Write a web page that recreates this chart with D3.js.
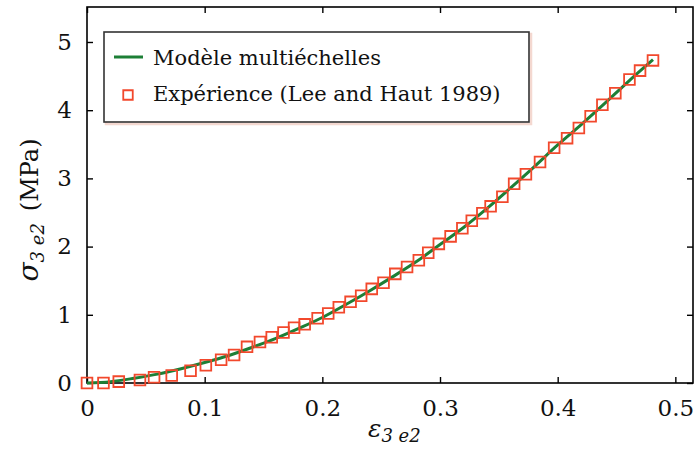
<!DOCTYPE html>
<meta charset="utf-8">
<style>
body { margin: 0; background: #fff; }
text { font-family: "DejaVu Serif", "Liberation Serif", serif; fill: #111; }
.axis path, .axis line { stroke: #000; }
</style>
<body>
<script src="https://cdn.jsdelivr.net/npm/d3@7/dist/d3.min.js"></script>
<script>

// model curve (Modèle multiéchelles)
var modelStrain = [0, 0.02, 0.04, 0.06, 0.08, 0.10, 0.12, 0.14, 0.16, 0.18, 0.20, 0.22, 0.24,
  0.26, 0.28, 0.30, 0.32, 0.34, 0.36, 0.38, 0.40, 0.42, 0.44, 0.46, 0.481];
var modelStress = [0, 0.02, 0.07, 0.13, 0.21, 0.30, 0.40, 0.52, 0.65, 0.80, 0.96, 1.15, 1.35,
  1.56, 1.78, 2.03, 2.28, 2.56, 2.86, 3.17, 3.49, 3.79, 4.10, 4.42, 4.74];

// experiment (Lee and Haut 1989)
var expStrain = [0.000, 0.014, 0.027, 0.045, 0.057, 0.072, 0.088, 0.101, 0.114, 0.125, 0.136,
  0.147, 0.157, 0.167, 0.176, 0.185, 0.196, 0.205, 0.214, 0.224, 0.233, 0.242, 0.252, 0.262,
  0.272, 0.282, 0.290, 0.299, 0.309, 0.319, 0.327, 0.336, 0.343, 0.353, 0.363, 0.373, 0.385,
  0.397, 0.408, 0.418, 0.428, 0.438, 0.449, 0.461, 0.470, 0.481];
var expStress = [0.00, 0.00, 0.02, 0.045, 0.085, 0.11, 0.18, 0.26, 0.34, 0.41, 0.53,
  0.60, 0.67, 0.74, 0.81, 0.86, 0.95, 1.02, 1.11, 1.19, 1.28, 1.38, 1.47, 1.60,
  1.70, 1.80, 1.91, 2.04, 2.15, 2.27, 2.38, 2.49, 2.59, 2.73, 2.92, 3.06, 3.24,
  3.45, 3.59, 3.74, 3.91, 4.08, 4.25, 4.45, 4.58, 4.73];

var xTicks = [0, 0.1, 0.2, 0.3, 0.4, 0.5];
var yTicks = [0, 1, 2, 3, 4, 5];
var legendLabels = ["Modèle multiéchelles", "Expérience (Lee and Haut 1989)"];

var W = 695, H = 454;
var pl = 87, pr = 693, pt = 7, pb = 383;

var svg = d3.select("body").append("svg")
  .attr("width", W)
  .attr("height", H);

var x = d3.scaleLinear().domain([0, 0.515]).range([pl, pr]);
var y = d3.scaleLinear().domain([0, 5.513]).range([pb, pt]);

// frame
svg.append("rect")
  .attr("x", pl).attr("y", pt)
  .attr("width", pr - pl).attr("height", pb - pt)
  .attr("fill", "none").attr("stroke", "#000").attr("stroke-width", 1.6);

// axes with inward ticks
var fmt = function(d) { return d === 0 ? "0" : d3.format(".1f")(d); };
svg.append("g").attr("class", "axis")
  .attr("transform", "translate(0," + pb + ")")
  .call(d3.axisBottom(x).tickValues(xTicks).tickSizeInner(-6).tickSizeOuter(0).tickPadding(17).tickFormat(fmt))
  .call(function(g) { g.select(".domain").remove(); })
  .selectAll("text").style("font-size", "23px").attr("fill", "#111");
svg.append("g").attr("class", "axis")
  .attr("transform", "translate(0," + pt + ")")
  .call(d3.axisTop(x).tickValues(xTicks).tickSizeInner(-6).tickSizeOuter(0).tickFormat(""))
  .call(function(g) { g.select(".domain").remove(); });
svg.append("g").attr("class", "axis")
  .attr("transform", "translate(" + pl + ",0)")
  .call(d3.axisLeft(y).tickValues(yTicks).tickSizeInner(-6).tickSizeOuter(0).tickPadding(15).tickFormat(d3.format("d")))
  .call(function(g) { g.select(".domain").remove(); })
  .selectAll("text").style("font-size", "23px").attr("fill", "#111");
svg.append("g").attr("class", "axis")
  .attr("transform", "translate(" + pr + ",0)")
  .call(d3.axisRight(y).tickValues(yTicks).tickSizeInner(-6).tickSizeOuter(0).tickFormat(""))
  .call(function(g) { g.select(".domain").remove(); });
svg.selectAll(".axis line").attr("stroke-width", 1.4);

// model line
var model = modelStrain.map(function(d, i) { return [d, modelStress[i]]; });
var line = d3.line()
  .x(function(d) { return x(d[0]); })
  .y(function(d) { return y(d[1]); })
  .curve(d3.curveMonotoneX);
svg.append("path")
  .datum(model)
  .attr("d", line)
  .attr("fill", "none")
  .attr("stroke", "#1d7f36")
  .attr("stroke-width", 3);

// experiment squares
var sq = d3.symbol().type(d3.symbolSquare).size(115);
svg.selectAll(".pt")
  .data(expStrain.map(function(d, i) { return [d, expStress[i]]; }))
  .enter().append("path")
  .attr("class", "pt")
  .attr("d", sq)
  .attr("transform", function(d) { return "translate(" + x(d[0]) + "," + y(d[1]) + ")"; })
  .attr("fill", "none")
  .attr("stroke", "#f2482c")
  .attr("stroke-width", 1.8);

// legend
var lg = svg.append("g");
lg.append("rect")
  .attr("x", 106).attr("y", 34).attr("width", 425).attr("height", 90)
  .attr("fill", "none").attr("stroke", "#f4d8d0").attr("stroke-width", 2.5);
lg.append("rect")
  .attr("x", 104).attr("y", 32).attr("width", 425).attr("height", 90)
  .attr("fill", "#fff").attr("stroke", "#333").attr("stroke-width", 1.6);
lg.append("line")
  .attr("x1", 114).attr("x2", 143).attr("y1", 57).attr("y2", 57)
  .attr("stroke", "#1d7f36").attr("stroke-width", 3);
lg.append("path")
  .attr("d", d3.symbol().type(d3.symbolSquare).size(90))
  .attr("transform", "translate(128,95)")
  .attr("fill", "none").attr("stroke", "#f2482c").attr("stroke-width", 1.8);
lg.selectAll(".lt")
  .data(legendLabels)
  .enter().append("text")
  .attr("x", 153)
  .attr("y", function(d, i) { return 65 + i * 36; })
  .style("font-size", "21px")
  .text(function(d) { return d; });

// axis titles
var yl = svg.append("text")
  .attr("transform", "translate(38,210) rotate(-90)")
  .attr("text-anchor", "middle")
  .style("font-size", "24px");
yl.append("tspan").style("font-style", "italic").style("font-size", "28px").text("σ");
yl.append("tspan").style("font-style", "italic").style("font-size", "18px").attr("dy", 6).text("3 e2");
yl.append("tspan").attr("dy", -6).text("\u2002(MPa)");

var xl = svg.append("text")
  .attr("x", 368).attr("y", 437)
  .style("font-size", "24px");
xl.append("tspan").style("font-style", "italic").style("font-size", "25px").text("ε");
xl.append("tspan").style("font-style", "italic").style("font-size", "18px").attr("dy", 5).text("3 e2");

</script>
</body>
